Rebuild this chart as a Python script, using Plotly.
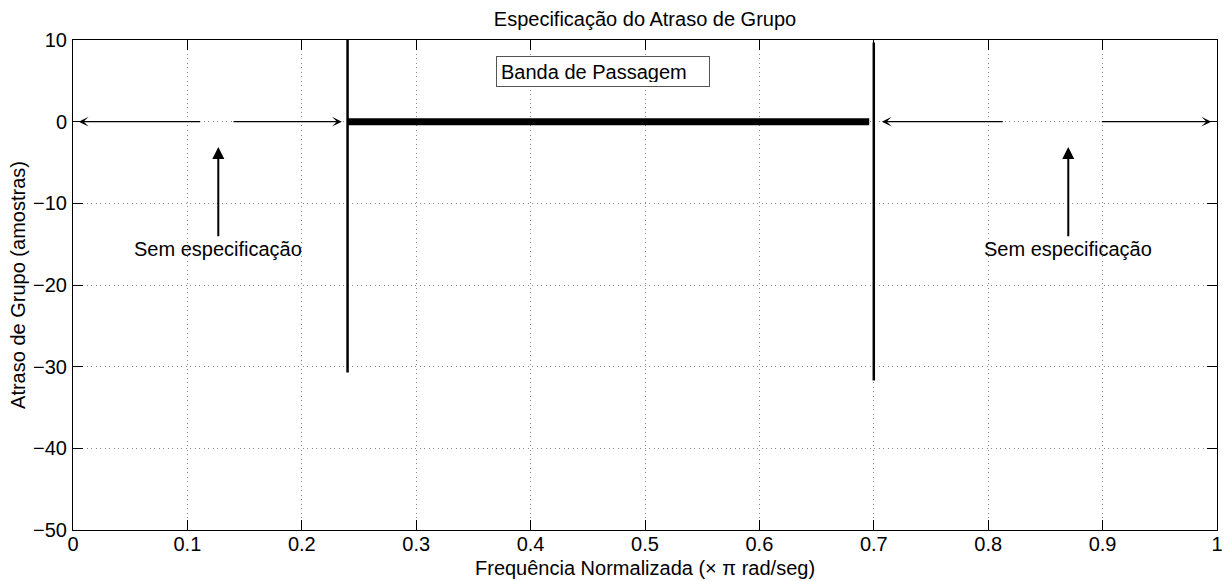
import plotly.graph_objects as go

# Passband limits and the drawn segments (normalized frequency, group delay in samples)
passband_edges = [0.24, 0.70]
edge_line_low = [-30.7, -31.7]
edge_line_high = [10.5, 9.7]
passband_x = [0.24, 0.696]
passband_delay = [0.0, 0.0]

# Double-headed horizontal arrows marking the unspecified bands (head x, tail x)
band_arrow_heads = [0.005, 0.235, 0.707, 0.995]
band_arrow_tails = [0.1125, 0.139, 0.814, 0.898]

# Vertical pointer arrows and their labels
pointer_x = [0.127, 0.870]
pointer_tip = [-3.1, -3.1]
pointer_tail = [-14.2, -14.2]
label_y = [-15.6, -15.6]
label_text = ["Sem especificação", "Sem especificação"]

x_ticks = [0, 0.1, 0.2, 0.3, 0.4, 0.5, 0.6, 0.7, 0.8, 0.9, 1]
y_ticks = [-50, -40, -30, -20, -10, 0, 10]

FONT = "Liberation Sans, Arial, Helvetica, sans-serif"
FS = 20
GRID_DASH = "1px,3.5px"

fig = go.Figure()

# passband edge markers
for xe, lo, hi in zip(passband_edges, edge_line_low, edge_line_high):
    fig.add_trace(go.Scatter(x=[xe, xe], y=[lo, hi], mode="lines",
                             line=dict(color="black", width=2.5),
                             cliponaxis=False, showlegend=False, hoverinfo="skip"))

# passband group delay specification
fig.add_trace(go.Scatter(x=passband_x, y=passband_delay, mode="lines",
                         line=dict(color="black", width=7),
                         showlegend=False, hoverinfo="skip"))

annotations = []
for hx, tx in zip(band_arrow_heads, band_arrow_tails):
    annotations.append(dict(x=hx, y=0, ax=tx, ay=0, xref="x", yref="y",
                            axref="x", ayref="y", text="", showarrow=True,
                            arrowhead=3, arrowsize=1.5, arrowwidth=1.1,
                            arrowcolor="black", standoff=0))

for px, tip, tail, ly, lt in zip(pointer_x, pointer_tip, pointer_tail, label_y, label_text):
    annotations.append(dict(x=px, y=tip, ax=px, ay=tail, xref="x", yref="y",
                            axref="x", ayref="y", text="", showarrow=True,
                            arrowhead=2, arrowsize=1.2, arrowwidth=2,
                            arrowcolor="black", standoff=0))
    annotations.append(dict(x=px, y=ly, xref="x", yref="y", text=lt,
                            showarrow=False, xanchor="center", yanchor="middle",
                            font=dict(family=FONT, size=FS, color="black")))

# passband legend box
annotations.append(dict(x=0.370, y=6.15, xref="x", yref="y",
                        text="Banda de Passagem", showarrow=False,
                        xanchor="left", yanchor="middle", align="left",
                        width=204, height=21, valign="middle",
                        bgcolor="white", bordercolor="#555555", borderwidth=1,
                        borderpad=4,
                        font=dict(family=FONT, size=FS, color="black")))

# x-axis label, placed just under the tick labels
annotations.append(dict(x=0.5, y=-38 / 490, xref="paper", yref="paper",
                        text="Frequência Normalizada (× π rad/seg)", showarrow=False,
                        xanchor="center", yanchor="middle",
                        font=dict(family=FONT, size=FS, color="black")))

fig.update_layout(
    width=1227, height=581,
    margin=dict(l=73, r=10, t=40, b=51),
    paper_bgcolor="white", plot_bgcolor="white",
    font=dict(family=FONT, size=FS, color="black"),
    title=dict(text="Especificação do Atraso de Grupo", x=0.5, xanchor="center",
               xref="paper", y=1 - 19 / 581, yanchor="middle", yref="container",
               font=dict(family=FONT, size=FS, color="black")),
    annotations=annotations,
    showlegend=False,
)

fig.update_xaxes(
    range=[0, 1], tickvals=x_ticks, ticktext=[("%g" % v) for v in x_ticks],
    showline=True, linecolor="black", linewidth=1, mirror="ticks",
    ticks="inside", ticklen=10, tickcolor="black", tickwidth=1,
    showgrid=True, gridcolor="#8a8a8a", griddash=GRID_DASH, gridwidth=1,
    zeroline=False, ticklabelstandoff=-4,
    tickfont=dict(family=FONT, size=FS),
    automargin=False,
)
fig.update_yaxes(
    range=[-50, 10], tickvals=y_ticks,
    showline=True, linecolor="black", linewidth=1, mirror="ticks",
    ticks="inside", ticklen=10, tickcolor="black", tickwidth=1,
    showgrid=True, gridcolor="#8a8a8a", griddash=GRID_DASH, gridwidth=1,
    zeroline=False, ticklabelstandoff=1,
    tickfont=dict(family=FONT, size=FS),
    title=dict(text="Atraso de Grupo (amostras)", standoff=2,
               font=dict(family=FONT, size=FS)),
    automargin=False,
)

fig.write_html("out.html")
